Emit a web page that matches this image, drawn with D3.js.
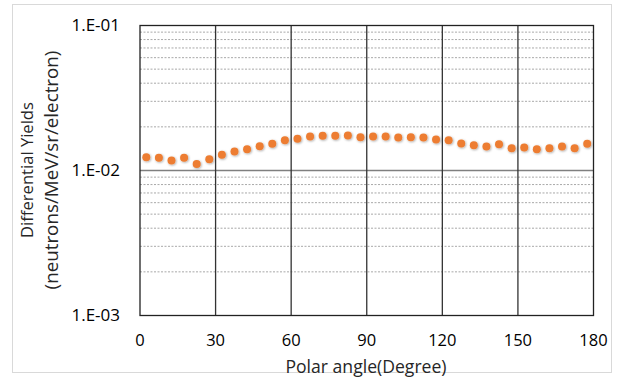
<!DOCTYPE html>
<html><head><meta charset="utf-8">
<script src="https://cdn.jsdelivr.net/npm/d3@7"></script>
<style>body{margin:0;background:#fff}svg{display:block}</style>
</head><body>
<svg id="c" width="620" height="383"></svg>
<script>
const angles = [2.5,7.5,12.5,17.5,22.5,27.5,32.5,37.5,42.5,47.5,52.5,57.5,62.5,67.5,72.5,77.5,82.5,87.5,92.5,97.5,102.5,107.5,112.5,117.5,122.5,127.5,132.5,137.5,142.5,147.5,152.5,157.5,162.5,167.5,172.5,177.5];
const yields = [0.01235,0.01223,0.01172,0.01223,0.0111,0.01197,0.01283,0.01352,0.01403,0.01471,0.01528,0.01618,0.01653,0.01715,0.01734,0.01734,0.01743,0.01697,0.01715,0.01715,0.01689,0.01697,0.01689,0.01636,0.01618,0.01535,0.01495,0.01464,0.01518,0.01425,0.0144,0.01403,0.01425,0.01464,0.01425,0.01528];
const xTicks = [0,30,60,90,120,150,180];
const yTicks = [0.001,0.01,0.1];
const yTickLabels = ["1.E-03","1.E-02","1.E-01"];
const xTitle = "Polar angle(Degree)";
const yTitle1 = "Differential Yields";
const yTitle2 = "(neutrons/MeV/sr/electron)";

const svg = d3.select("#c");
const font = "'Open Sans', sans-serif";
const L=140, R=593.5, T=25.5, B=315.5;
const x = d3.scaleLinear().domain([0,180]).range([L,R]);
const y = d3.scaleLog().domain([0.001,0.1]).range([B,T]);

svg.append("rect").attr("x",12.5).attr("y",4.5).attr("width",599).attr("height",368)
  .attr("fill","#fff").attr("stroke","#d9d9d9");

const defs = svg.append("defs");
const f = defs.append("filter").attr("id","sh").attr("x","-50%").attr("y","-50%").attr("width","200%").attr("height","200%");
f.append("feDropShadow").attr("dx",0.8).attr("dy",0.8).attr("stdDeviation",0.8).attr("flood-color","#000").attr("flood-opacity",0.35);

// minor gridlines
const minor = [];
[0.001,0.01].forEach(d=>{for(let k=2;k<=9;k++) minor.push(d*k);});
svg.append("g").selectAll("line").data(minor).join("line")
  .attr("x1",L).attr("x2",R).attr("y1",d=>y(d)).attr("y2",d=>y(d))
  .attr("stroke","#8c8c8c").attr("stroke-width",0.75).attr("stroke-dasharray","2,1.5");
// major
svg.append("line").attr("x1",L).attr("x2",R).attr("y1",y(0.01)).attr("y2",y(0.01))
  .attr("stroke","#7f7f7f").attr("stroke-width",1.5);
// vertical
svg.append("g").selectAll("line").data(xTicks.slice(1,-1)).join("line")
  .attr("x1",d=>x(d)).attr("x2",d=>x(d)).attr("y1",T).attr("y2",B)
  .attr("stroke","#333").attr("stroke-width",1.3);
// border
svg.append("rect").attr("x",L).attr("y",T).attr("width",R-L).attr("height",B-T)
  .attr("fill","none").attr("stroke","#222").attr("stroke-width",1.3);

svg.append("g").selectAll("text").data(xTicks).join("text")
  .attr("x",d=>x(d)).attr("y",346).attr("text-anchor","middle")
  .attr("font-family",font).attr("font-size",16.5).attr("fill","#000").text(d=>d);
svg.append("g").selectAll("text").data(yTicks).join("text")
  .attr("x",120).attr("y",d=>y(d)+5.5).attr("text-anchor","end")
  .attr("font-family",font).attr("font-size",17).attr("fill","#000").text((d,i)=>yTickLabels[i]);

svg.append("text").attr("x",366).attr("y",372.5).attr("text-anchor","middle")
  .attr("font-family",font).attr("font-size",17.6).attr("fill","#262626").text(xTitle);
svg.append("text").attr("transform","translate(33,170) rotate(-90)").attr("text-anchor","middle")
  .attr("font-family",font).attr("font-size",16.6).attr("fill","#262626").text(yTitle1);
svg.append("text").attr("transform","translate(57.5,170) rotate(-90)").attr("text-anchor","middle")
  .attr("font-family",font).attr("font-size",18.8).attr("fill","#262626").text(yTitle2);

// points
svg.append("g").attr("filter","url(#sh)").selectAll("circle").data(angles).join("circle")
  .attr("cx",d=>x(d)).attr("cy",(d,i)=>y(yields[i])).attr("r",4)
  .attr("fill","#ED7D31");
</script>
</body></html>
